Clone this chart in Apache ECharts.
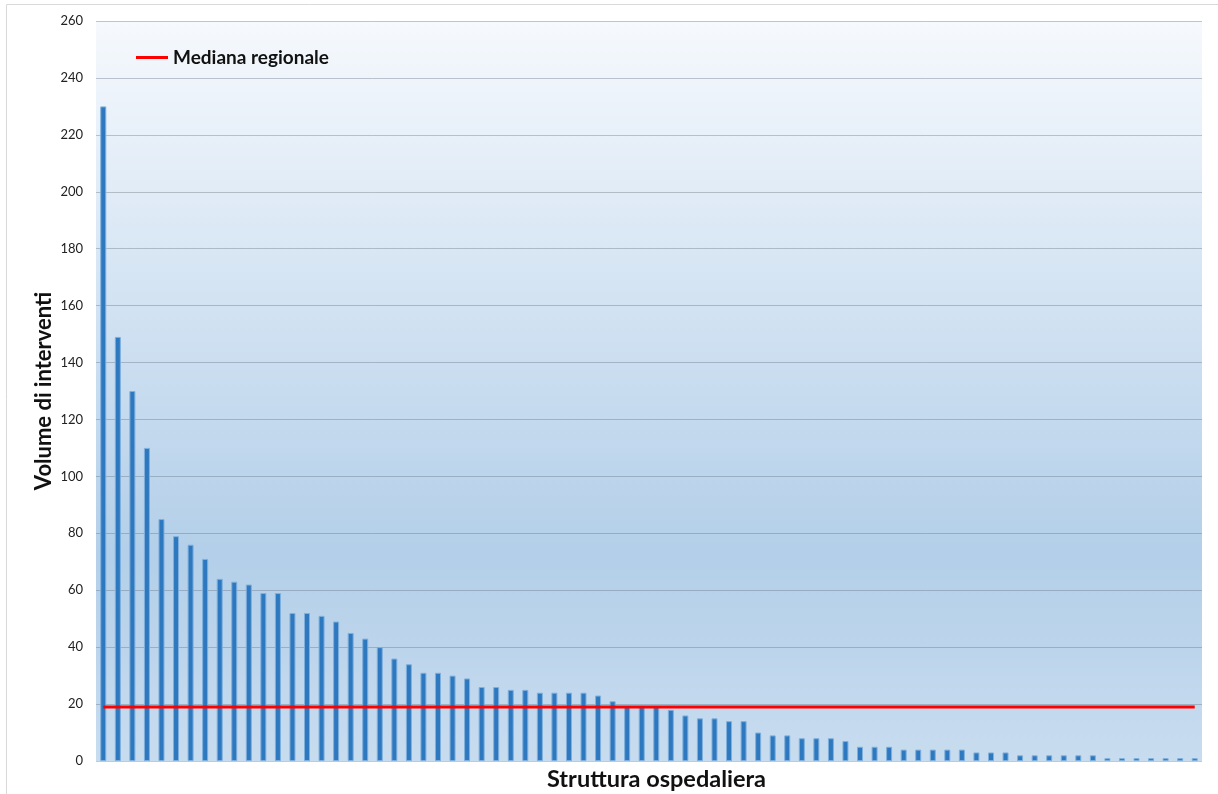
<!DOCTYPE html>
<html>
<head>
<meta charset="utf-8">
<script src="https://cdn.jsdelivr.net/npm/echarts@6/dist/echarts.min.js"></script>
<style>
  html, body { margin: 0; padding: 0; background: #fff; }
  #chart { width: 1218px; height: 794px; }
</style>
</head>
<body>
<div id="chart"></div>
<script>
// volume di interventi per struttura ospedaliera (ordinati)
const volumes = [
  230, 149, 130, 110, 85, 79, 76, 71, 64, 63,
  62, 59, 59, 52, 52, 51, 49, 45, 43, 40,
  36, 34, 31, 31, 30, 29, 26, 26, 25, 25,
  24, 24, 24, 24, 23, 21, 19, 19, 19, 18,
  16, 15, 15, 14, 14, 10, 9, 9, 8, 8,
  8, 7, 5, 5, 5, 4, 4, 4, 4, 4,
  3, 3, 3, 2, 2, 2, 2, 2, 2, 1,
  1, 1, 1, 1, 1, 1
];
const categories = volumes.map((v, i) => "S" + (i + 1));
const medianaRegionale = 19;
const yTicks = [0, 260, 20]; // min, max, step

const font = "Lato, 'Open Sans', sans-serif";
let mychart = echarts.init(document.getElementById("chart"));
const option = {
  animation: false,
  backgroundColor: "#fff",
  textStyle: { fontFamily: font },
  title: {
    text: "Struttura ospedaliera",
    left: 547,
    top: 767,
    padding: 0,
    textStyle: { fontFamily: font, fontSize: 23.5, fontWeight: "bold", color: "#111" },
  },
  graphic: [
    {
      type: "rect",
      shape: { x: 6.5, y: 4.5, width: 1240, height: 820 },
      style: { fill: "none", stroke: "#d9d9d9", lineWidth: 1 },
      silent: true,
    },
  ],
  legend: {
    left: 131,
    top: 43,
    icon: "rect",
    itemWidth: 32,
    itemHeight: 3,
    data: ["Mediana regionale"],
    textStyle: { fontFamily: font, fontSize: 19, fontWeight: "bold", color: "#111" },
  },
  grid: {
    left: 96,
    right: 16,
    top: 21,
    bottom: 33,
    show: true,
    borderWidth: 0,
    backgroundColor: {
      type: "linear", x: 0, y: 0, x2: 0, y2: 1,
      colorStops: [
        { offset: 0, color: "#f6f9fd" },
        { offset: 0.72, color: "#b3cfe9" },
        { offset: 1, color: "#c8dcef" },
      ],
    },
  },
  xAxis: {
    type: "category",
    data: categories,
    boundaryGap: true,
    axisLine: { show: false },
    axisTick: { show: false },
    axisLabel: { show: false },
  },
  yAxis: {
    type: "value",
    name: "Volume di interventi",
    nameLocation: "middle",
    nameGap: 41,
    nameMoveOverlap: false,
    nameTextStyle: { fontFamily: font, fontSize: 22, fontWeight: "bold", color: "#111" },
    min: yTicks[0],
    max: yTicks[1],
    interval: yTicks[2],
    axisLine: { show: false },
    axisTick: { show: false },
    axisLabel: { margin: 13, fontFamily: font, fontSize: 13, color: "#222" },
    splitLine: { lineStyle: { color: "rgba(100,112,128,0.38)", width: 1 } },
  },
  series: [
    {
      name: "Volume",
      type: "bar",
      data: volumes,
      barWidth: 6,
      itemStyle: { color: "#2e78bf", borderColor: "#7fb0dd", borderWidth: 1 },
    },
    {
      name: "Mediana regionale",
      type: "line",
      symbol: "none",
      data: [
        [categories[0], medianaRegionale],
        [categories[categories.length - 1], medianaRegionale],
      ],
      lineStyle: { color: "#ff0000", width: 3 },
      itemStyle: { color: "#ff0000" },
      z: 5,
    },
  ],
};
mychart.setOption(option);
</script>
</body>
</html>
